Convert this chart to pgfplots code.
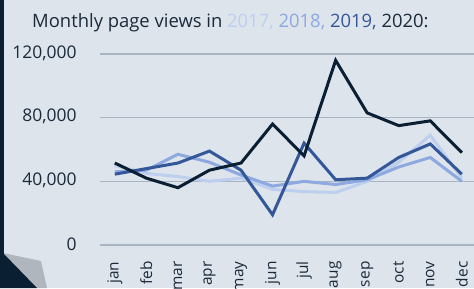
\documentclass[border=0pt]{standalone}
\usepackage{pgfplots}
\pgfplotsset{compat=1.18}
\usepackage{fontspec}
\setmainfont{Open Sans}
\definecolor{bg}{HTML}{DDE4EC}
\definecolor{navy}{HTML}{0B1F33}
\definecolor{cA}{HTML}{BDCFEE}
\definecolor{cB}{HTML}{8DA9DF}
\definecolor{cC}{HTML}{34579A}
\definecolor{gridc}{HTML}{AAB5C4}
\definecolor{txt}{HTML}{1B2A3A}
\definecolor{corner}{HTML}{B0B6BD}
\begin{document}
\begin{tikzpicture}[x=1bp,y=1bp]
\path[use as bounding box] (0,0) rectangle (474,288);
\fill[bg] (0,0) rectangle (474,288);
\fill[corner] (3,35) -- (41,27) -- (47,0) -- (37,0) -- cycle;
\fill[navy] (0,0) rectangle (3.5,288);
\fill[navy] (0,35) -- (3,35) -- (37,0) -- (0,0) -- cycle;
\node[anchor=base west, font=\fontsize{18.5}{20}\selectfont, text=txt, inner sep=0pt] at (32,261)
  {Monthly page views in \textcolor{cA}{2017,} \textcolor{cB}{2018,} \textcolor{cC}{2019,} 2020:};
\begin{axis}[
  at={(100bp,43bp)}, anchor=south west,
  scale only axis, width=376bp, height=191bp,
  xmin=-0.47, xmax=11.45, ymin=0, ymax=120000,
  clip=false,
  axis line style={draw=none},
  major tick length=0pt,
  xmajorgrids=false,
  ymajorgrids=true, grid style={gridc, line width=1.6bp},
  ytick={0,40000,80000,120000},
  yticklabels={0,{40,000},{80,000},{120,000}},
  scaled y ticks=false,
  yticklabel style={font=\fontsize{17.5}{19}\selectfont, text=txt, anchor=east, xshift=-20bp, yshift=1bp},
  xtick={0,...,11},
  xticklabels={jan,feb,mar,apr,may,jun,jul,aug,sep,oct,nov,dec},
  xticklabel style={rotate=90, anchor=east, font=\fontsize{15.5}{17}\selectfont, text=txt, xshift=-13bp},
]
\addplot[cA, line width=3bp] coordinates {(0,50000)(1,45000)(2,43000)(3,40000)(4,42000)(5,35000)(6,33500)(7,33000)(8,40000)(9,52000)(10,69000)(11,42000)};
\addplot[cB, line width=3bp] coordinates {(0,46000)(1,47000)(2,57000)(3,52000)(4,44000)(5,37000)(6,40000)(7,38000)(8,41000)(9,49000)(10,55000)(11,40000)};
\addplot[cC, line width=3bp] coordinates {(0,44500)(1,48000)(2,51500)(3,59000)(4,47000)(5,19000)(6,64000)(7,41000)(8,42000)(9,55000)(10,63500)(11,44500)};
\addplot[navy, line width=3bp] coordinates {(0,51500)(1,42000)(2,36000)(3,47000)(4,51500)(5,76000)(6,56000)(7,116000)(8,83000)(9,75000)(10,78000)(11,58000)};
\end{axis}
\end{tikzpicture}
\end{document}
